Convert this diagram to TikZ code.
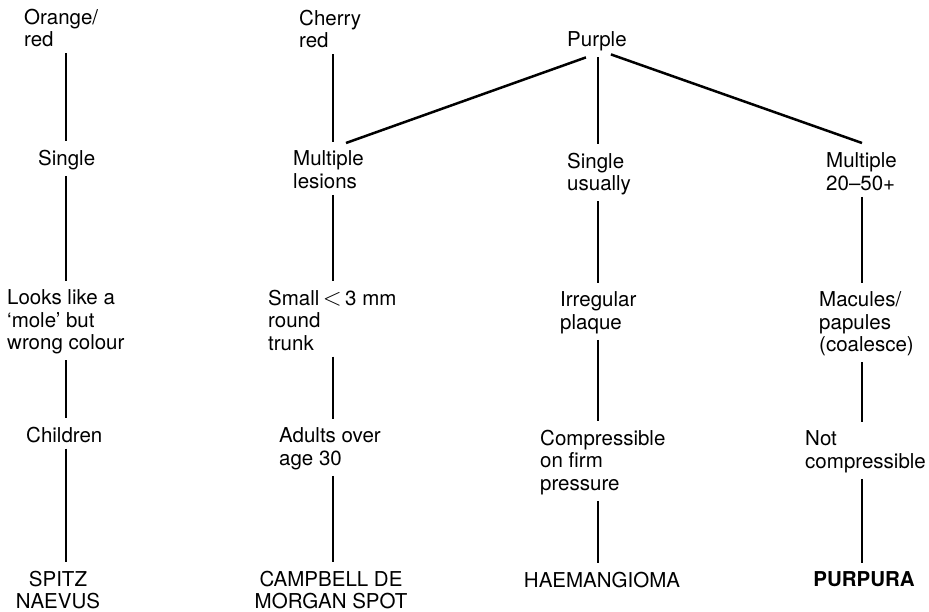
\documentclass[tikz,border=0pt]{standalone}
\usepackage{fontspec}
\setmainfont{TeX Gyre Heros}
\usetikzlibrary{calc}

\tikzset{
  lbl/.style={inner sep=0pt, outer ysep=6pt, align=left, anchor=north west,
              font=\fontsize{20.5}{22.5}\selectfont},
  endlbl/.style={lbl, align=center, anchor=north},
  link/.style={line width=2.5pt, shorten >=3pt},
  branch/.style={line width=2.5pt},
}
\newcommand{\lessthan}{\,{\fontsize{25}{25}\selectfont$<$}\,}

\begin{document}
\begin{tikzpicture}[x=1pt, y=-1pt]
  % canvas
  \fill[white] (0,0) rectangle (929,612);
  \path[use as bounding box] (0,0) rectangle (929,612);

  % column axes
  \coordinate (c1) at (66,0);
  \coordinate (c2) at (333,0);
  \coordinate (c3) at (598,0);
  \coordinate (c4) at (862,0);

  % colour (node anchors sit 6pt above the text)
  \node[lbl] (orange) at (24,3)   {Orange/\\red};
  \node[lbl] (cherry) at (299,4)  {Cherry\\red};
  \node[lbl] (purple) at (567,26) {Purple};

  % number of lesions
  \node[lbl] (single1) at (38,144)  {Single};
  \node[lbl] (multi1)  at (293,145) {Multiple\\lesions};
  \node[lbl] (single2) at (567,147) {Single\\usually};
  \node[lbl] (multi2)  at (826,147) {Multiple\\20–50+};

  % appearance
  \node[lbl] (looks)   at (7,284)   {Looks like a\\‘mole’ but\\wrong colour};
  \node[lbl] (small)   at (268,284) {Small\lessthan3 mm\\round\\trunk};
  \node[lbl] (irreg)   at (560,286) {Irregular\\plaque};
  \node[lbl] (macules) at (819,286) {Macules/\\papules\\(coalesce)};

  % further findings
  \node[lbl] (children) at (26,421)  {Children};
  \node[lbl] (adults)   at (279,422) {Adults over\\age 30};
  \node[lbl] (compress) at (540,424) {Compressible\\on firm\\pressure};
  \node[lbl] (notc)     at (805,425) {Not\\compressible};

  % diagnoses
  \node[endlbl] (spitz)    at (58,565)  {SPITZ\\NAEVUS};
  \node[endlbl] (campbell) at (331,565) {CAMPBELL DE\\MORGAN SPOT};
  \node[endlbl] (haem)     at (602,566) {HAEMANGIOMA};
  \node[endlbl, font=\fontsize{20.5}{22.5}\selectfont\bfseries] (purpura) at (864,566) {PURPURA};

  % column 1
  \draw[link] (orange.south -| c1)   -- (single1.north -| c1);
  \draw[link] (single1.south -| c1)  -- (looks.north -| c1);
  \draw[link] (looks.south -| c1)    -- (children.north -| c1);
  \draw[link] (children.south -| c1) -- (spitz.north -| c1);

  % column 2
  \draw[link] (cherry.south -| c2) -- (multi1.north -| c2);
  \draw[link] (multi1.south -| c2) -- (small.north -| c2);
  \draw[link] (small.south -| c2)  -- (adults.north -| c2);
  \draw[link] (adults.south -| c2) -- (campbell.north -| c2);

  % column 3
  \draw[link] (purple.south -| c3)   -- (single2.north -| c3);
  \draw[link] (single2.south -| c3)  -- (irreg.north -| c3);
  \draw[link] (irreg.south -| c3)    -- (compress.north -| c3);
  \draw[link] (compress.south -| c3) -- (haem.north -| c3);

  % column 4
  \draw[link] (multi2.south -| c4)  -- (macules.north -| c4);
  \draw[link] (macules.south -| c4) -- (notc.north -| c4);
  \draw[link] (notc.south -| c4)    -- (purpura.north -| c4);

  % branches from Purple
  \draw[branch] ($(purple.south)+(-11,0)$) -- ($(multi1.north -| c2)+(13,-2)$);
  \draw[branch] ($(purple.south)+(14,-3)$) -- ($(multi2.north -| c4)+(0,-4)$);
\end{tikzpicture}
\end{document}
